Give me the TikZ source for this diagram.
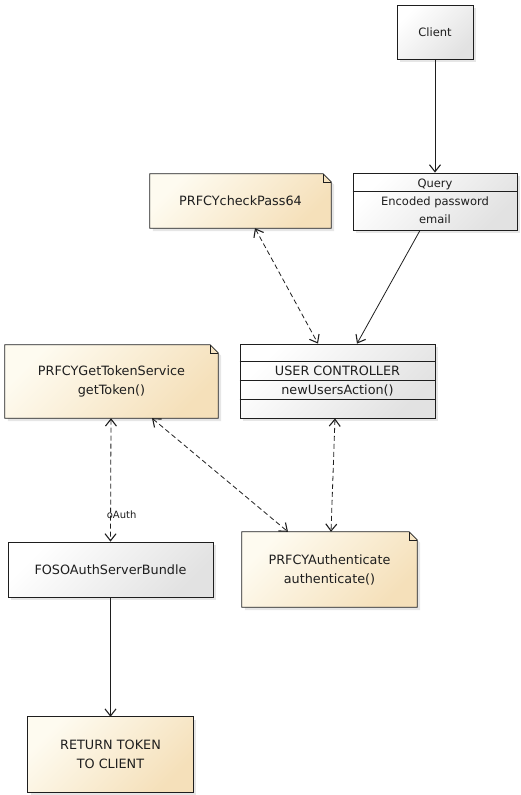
\documentclass[tikz,border=0pt]{standalone}
\usepackage{fontspec}
\setmainfont{DejaVu Sans}
\usetikzlibrary{arrows.meta,shadows,backgrounds}
\definecolor{notetop}{RGB}{254,251,240}
\definecolor{notebot}{RGB}{245,224,186}
\definecolor{graybot}{RGB}{226,226,226}
\definecolor{ink}{RGB}{30,30,30}
\tikzset{
  lbl/.style={font=\fontsize{12.8}{19}\selectfont, align=center, text=ink},
  small/.style={font=\fontsize{11.5}{18}\selectfont},
  shadowed/.style={drop shadow={opacity=0.2, shadow xshift=3pt, shadow yshift=-3pt}},
  graybox/.style={lbl, draw=ink, line width=0.8pt, top color=white, bottom color=graybot,
    shading angle=45, shadowed, inner sep=0pt},
  notenode/.style={lbl, inner sep=0pt},
  notefill/.style={draw=ink, line width=0.8pt, top color=notetop, bottom color=notebot,
    shading angle=45, shadowed},
  notefold/.style={draw=ink, line width=0.6pt},
  barb/.tip={Straight Barb[length=7pt,width=11pt,line width=1.1pt]},
  arr/.style={-barb, line width=0.8pt, draw=ink},
  darr/.style={barb-barb, line width=0.8pt, draw=ink, dash pattern=on 5pt off 3pt},
  divider/.style={draw=ink, line width=0.8pt},
  edgelbl/.style={font=\fontsize{10}{11}\selectfont, text=ink, inner sep=1pt},
}
\newcommand\mynote[1]{%
  \path[notefill] (#1.north west) -- ([xshift=-8pt]#1.north east) -- ([yshift=-8pt]#1.north east)
     -- (#1.south east) -- (#1.south west) -- cycle;
  \draw[notefold] ([xshift=-8pt]#1.north east) -- ([xshift=-8pt,yshift=-8pt]#1.north east)
     -- ([yshift=-8pt]#1.north east);}
\begin{document}
\begin{tikzpicture}[x=1pt,y=-1pt]
\useasboundingbox (0,0) rectangle (521,795);
% gray boxes
\node[graybox, small, minimum width=76pt, minimum height=54pt] (client) at (435,32) {Client};
\node[graybox, small, minimum width=164pt, minimum height=57pt] (query) at (435,201.5) {Query\\Encoded password\\email};
\draw[divider] ([yshift=-19pt]query.north west) -- ([yshift=-19pt]query.north east);
\node[graybox, minimum width=195pt, minimum height=74pt] (uc) at (337.5,381) {USER CONTROLLER\\newUsersAction()};
\draw[divider] ([yshift=-18pt]uc.north west) -- ([yshift=-18pt]uc.north east);
\draw[divider] ([yshift=-37pt]uc.north west) -- ([yshift=-37pt]uc.north east);
\draw[divider] ([yshift=-56pt]uc.north west) -- ([yshift=-56pt]uc.north east);
\node[graybox, minimum width=205pt, minimum height=55pt] (fos) at (110.5,569.5) {FOSOAuthServerBundle};
% notes
\node[notenode, minimum width=181pt, minimum height=54pt] (check) at (240.5,201) {PRFCYcheckPass64};
\node[notenode, minimum width=213pt, minimum height=73pt] (gettoken) at (111.5,381.5) {PRFCYGetTokenService\\getToken()};
\node[notenode, minimum width=175pt, minimum height=75pt] (auth) at (329.5,569.5) {PRFCYAuthenticate\\authenticate()};
\node[notenode, minimum width=165pt, minimum height=75pt] (ret) at (110.5,754.5) {RETURN TOKEN\\TO CLIENT};
\begin{scope}[on background layer]
\mynote{check}
\mynote{gettoken}
\mynote{auth}
\path[notefill] (ret.north west) rectangle (ret.south east);
\end{scope}
% connectors
\draw[arr] (client.south) -- (query.north);
\draw[arr] ([xshift=-15pt]query.south) -- ([xshift=19.5pt]uc.north);
\draw[darr] ([xshift=14.5pt]check.south) -- ([xshift=-19.5pt]uc.north);
\draw[darr] ([xshift=-0.5pt]gettoken.south) -- node[edgelbl, pos=0.78, xshift=11pt] (oauth) {oAuth} (fos.north);
\draw[darr] ([xshift=40.5pt]gettoken.south) -- ([xshift=-41.5pt]auth.north);
\draw[darr] ([xshift=-2.5pt]uc.south) -- ([xshift=1.5pt]auth.north);
\draw[arr] (fos.south) -- (ret.north);
\end{tikzpicture}
\end{document}
